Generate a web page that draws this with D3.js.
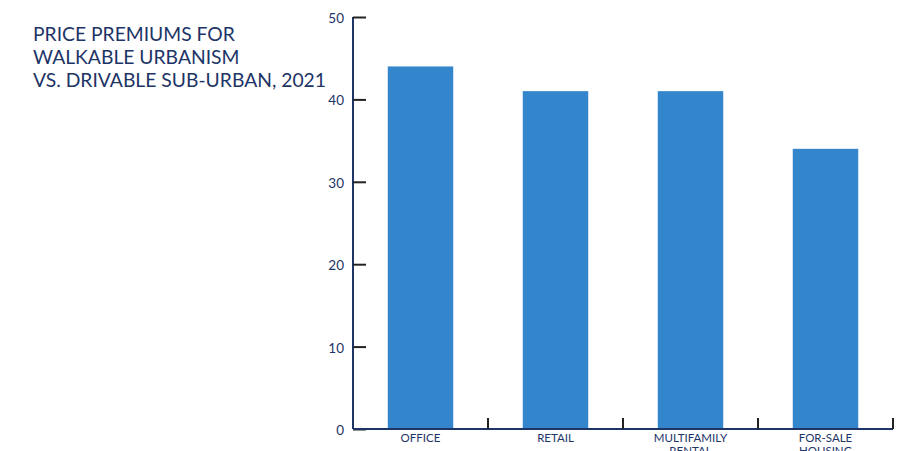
<!DOCTYPE html>
<html><head><meta charset="utf-8">
<script src="https://cdn.jsdelivr.net/npm/d3@7"></script>
<style>body{margin:0;background:#fff;} svg{display:block;font-family:Lato, "Open Sans", sans-serif;}</style>
</head><body>
<svg id="c" width="908" height="451"></svg>
<script>
const categories = ["OFFICE", "RETAIL", "MULTIFAMILY RENTAL", "FOR-SALE HOUSING"];
const values = [44, 41, 41, 34];
const yTicks = [0, 10, 20, 30, 40, 50];
const titleLines = ["PRICE PREMIUMS FOR", "WALKABLE URBANISM", "VS. DRIVABLE SUB-URBAN, 2021"];

(function() {
const svg = d3.select("#c");
const mLeft = 353, mRight = 893, mTop = 17, mBottom = 429;
const navy = "#1d3466";

const x = d3.scaleBand().domain(categories).range([mLeft, mRight]).paddingInner(0).paddingOuter(0);
const y = d3.scaleLinear().domain([0, 50]).range([mBottom, mTop]);
const barW = x.bandwidth() * 0.485;

svg.append("g").selectAll("rect").data(values).join("rect")
  .attr("x", (d, i) => x(categories[i]) + x.bandwidth() / 2 - barW / 2)
  .attr("y", d => y(d))
  .attr("width", barW)
  .attr("height", d => y(0) - y(d))
  .attr("fill", "#3385cc");

// y axis
const ya = svg.append("g").attr("transform", `translate(${mLeft},0)`)
  .call(d3.axisLeft(y).tickValues(yTicks).tickSize(-13));
ya.select(".domain").attr("stroke", navy).attr("stroke-width", 2).attr("d", `M0,${mTop}V${mBottom}`);
ya.selectAll(".tick line").attr("stroke", "#222").attr("stroke-width", 2);
ya.selectAll(".tick text").attr("fill", navy).attr("font-size", 13.5).attr("font-family", "Lato").attr("dy", "0.4em")
  .attr("x", -9).attr("text-anchor", "end");

// x axis
const xa = svg.append("g").attr("transform", `translate(0,${mBottom})`);
xa.append("line").attr("x1", mLeft).attr("x2", mRight).attr("y1", 0).attr("y2", 0)
  .attr("stroke", navy).attr("stroke-width", 2);
const bounds = categories.map(c => x(c) + x.bandwidth());
xa.selectAll("line.t").data(bounds).join("line").attr("class", "t")
  .attr("x1", d => d).attr("x2", d => d).attr("y1", 0).attr("y2", -11)
  .attr("stroke", "#222").attr("stroke-width", 2);
xa.selectAll("text").data(categories).join("text")
  .attr("x", d => x(d) + x.bandwidth() / 2)
  .attr("y", 13)
  .attr("text-anchor", "middle")
  .attr("font-size", 11.5).attr("fill", navy)
  .each(function(d) {
    const words = d.split(" ");
    const t = d3.select(this);
    words.forEach((w, i) => t.append("tspan").attr("x", x(d) + x.bandwidth() / 2).attr("dy", i ? 13 : 0).text(w));
  });

// title
svg.append("text").attr("x", 33).attr("y", 41).attr("font-size", 19.3).attr("fill", navy)
  .selectAll("tspan").data(titleLines).join("tspan").attr("x", 33).attr("dy", (d, i) => i ? 23 : 0).text(d => d);
})();
</script>
</body></html>
